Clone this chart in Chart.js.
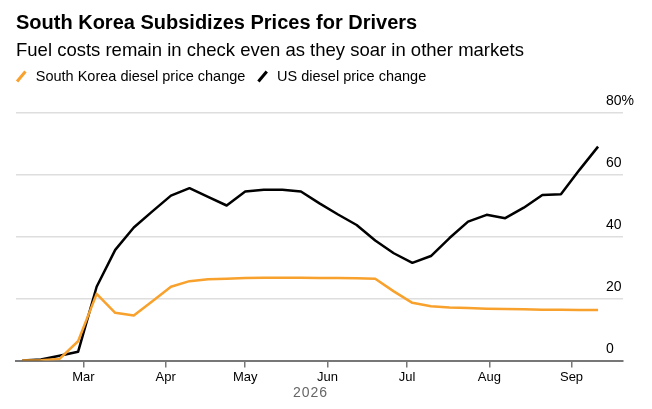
<!DOCTYPE html>
<html><head><meta charset="utf-8">
<script src="https://cdn.jsdelivr.net/npm/chart.js@4.4.1/dist/chart.umd.min.js"></script>
<style>
html,body{margin:0;padding:0;background:#fff;}
#wrap{position:relative;width:652px;height:409px;overflow:hidden;font-family:"Liberation Sans",Arial,sans-serif;}
#c{position:absolute;left:0;top:0;}
.t{position:absolute;left:16px;white-space:nowrap;color:#000;line-height:1;}
#title{top:12.4px;font-size:20px;font-weight:bold;}
#sub{top:41px;font-size:18.5px;}
#year{left:293px;top:385.4px;font-size:14px;letter-spacing:1px;color:#666;}
</style></head><body>
<div id="wrap">
<canvas id="c" width="652" height="409"></canvas>
<div class="t" id="title">South Korea Subsidizes Prices for Drivers</div>
<div class="t" id="sub">Fuel costs remain in check even as they soar in other markets</div>
<div class="t" id="year">2026</div>
</div>
<script>
const dates = ['2026-02-06','2026-02-13','2026-02-20','2026-02-27','2026-03-06','2026-03-13','2026-03-20','2026-03-27',
  '2026-04-03','2026-04-10','2026-04-17','2026-04-24','2026-05-01','2026-05-08','2026-05-15','2026-05-22','2026-05-29',
  '2026-06-05','2026-06-12','2026-06-19','2026-06-26','2026-07-03','2026-07-10','2026-07-17','2026-07-24','2026-07-31',
  '2026-08-07','2026-08-14','2026-08-21','2026-08-28','2026-09-04','2026-09-11'];
const koreaDiesel = [0, 0.1, 0.5, 6.2, 21.5, 15.4, 14.5, 19.1, 23.8, 25.6, 26.2, 26.4, 26.6, 26.7, 26.7, 26.7,
  26.6, 26.6, 26.5, 26.4, 22.3, 18.6, 17.5, 17.1, 16.9, 16.7, 16.6, 16.5, 16.4, 16.4, 16.3, 16.3];
const usDiesel = [0, 0.3, 1.5, 2.8, 23.8, 35.7, 42.9, 48.1, 53.2, 55.6, 52.8, 50.0, 54.5, 55.1, 55.1, 54.5,
  50.7, 47.1, 43.7, 38.7, 34.6, 31.5, 33.7, 39.5, 44.8, 47.0, 45.9, 49.3, 53.4, 53.6, 61.5, 69.0];
const monthTicks = ['2026-03-01','2026-04-01','2026-05-01','2026-06-01','2026-07-01','2026-08-01','2026-09-01'];
const monthLabels = ['Mar','Apr','May','Jun','Jul','Aug','Sep'];
const yTicks = [0, 20, 40, 60, 80];
const seriesNames = ['South Korea diesel price change', 'US diesel price change'];

const dayNum = s => { const p = s.split('-').map(Number); return (Date.UTC(p[0], p[1]-1, p[2]) - Date.UTC(2026,0,1)) / 864e5; };
const toPts = arr => dates.map((d, i) => ({x: dayNum(d), y: arr[i]}));

const ORANGE = '#f8a12c';
const FONT = '"Liberation Sans", Arial, sans-serif';
const spacer = (pos, size) => ({
  type: 'linear', axis: (pos === 'top' || pos === 'bottom') ? 'x' : 'y', position: pos, display: true,
  grid: {display: false, drawTicks: false}, border: {display: false}, ticks: {display: false},
  afterFit(s) { if (s.isHorizontal()) s.height = size; else s.width = size; }
});

new Chart(document.getElementById('c'), {
  type: 'line',
  data: {
    datasets: [
      {label: seriesNames[0], data: toPts(koreaDiesel), xAxisID: 'x', yAxisID: 'y', borderColor: ORANGE, backgroundColor: ORANGE, borderWidth: 2.5, pointRadius: 0, borderJoinStyle: 'round', tension: 0},
      {label: seriesNames[1], data: toPts(usDiesel), xAxisID: 'x', yAxisID: 'y', borderColor: '#000', backgroundColor: '#000', borderWidth: 2.5, pointRadius: 0, borderJoinStyle: 'round', tension: 0}
    ]
  },
  options: {
    responsive: false,
    animation: false,
    layout: {padding: {left: 4, right: 17, top: 59.25, bottom: 18.5}},
    plugins: {
      tooltip: {enabled: false},
      legend: {
        position: 'top', align: 'start',
        labels: {
          usePointStyle: true, boxWidth: 16, boxHeight: 9.2, padding: 10,
          color: '#000', font: {family: FONT, size: 14.5},
          generateLabels(chart) {
            const items = Chart.defaults.plugins.legend.labels.generateLabels(chart);
            items.forEach(it => { it.pointStyle = 'line'; it.rotation = -50; it.lineWidth = 3; });
            return items;
          }
        }
      }
    },
    scales: {
      gapTop: spacer('top', 18.75),
      gapLeft: spacer('left', 12),
      x: {
        type: 'linear', min: 33.6, max: 262.4,
        afterBuildTicks(s) { s.ticks = monthTicks.map(d => ({value: dayNum(d)})); },
        afterFit(s) { s.height = 30; },
        grid: {drawOnChartArea: false, drawTicks: true, tickLength: 7, color: '#777', lineWidth: 1.5},
        border: {display: true, color: '#777', width: 2},
        ticks: {autoSkip: false, maxRotation: 0, padding: 2, color: '#000',
          font: {family: FONT, size: 13},
          callback: (v, i) => monthLabels[i]}
      },
      y: {
        type: 'linear', position: 'right', min: 0, max: 80,
        afterBuildTicks(s) { s.ticks = yTicks.map(v => ({value: v})); },
        afterFit(s) { s.width = 12; },
        grid: {drawTicks: false, lineWidth: 1.5, color: c => c.tick && c.tick.value === 0 ? 'rgba(0,0,0,0)' : '#dedede'},
        border: {display: false},
        ticks: {mirror: true, crossAlign: 'far', padding: 11, labelOffset: -11, color: '#000',
          font: {family: FONT, size: 14},
          callback: v => v === 80 ? '80%' : String(v)}
      }
    }
  }
});
</script>
</body></html>
